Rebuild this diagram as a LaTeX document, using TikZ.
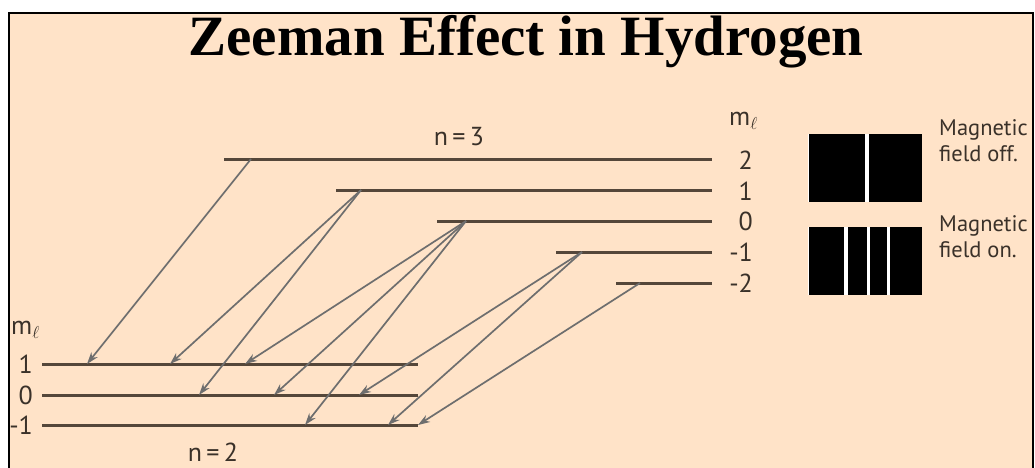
\documentclass[tikz,border=0pt]{standalone}
\usepackage{fontspec}
\setmainfont{Liberation Serif}
\newfontfamily\myr{PT Sans}
\usetikzlibrary{arrows.meta}
\definecolor{bgpeach}{HTML}{FFE3C8}
\definecolor{levelc}{HTML}{55473A}
\definecolor{arrowc}{HTML}{6E6E6E}
\definecolor{labc}{HTML}{3A3129}
\tikzset{
  level/.style={draw=levelc,line width=3pt},
  trans/.style={draw=arrowc,line width=1.7pt,-{Stealth[length=12pt,width=8pt]}},
  lab/.style={inner sep=0pt,text=labc,font=\myr\fontsize{26}{26}\selectfont},
  side/.style={inner sep=0pt,text=labc,anchor=base west,align=left,font=\myr\fontsize{22.5}{26}\selectfont},
  bar/.style={fill=black},
}
\begin{document}
\begin{tikzpicture}[x=1pt,y=-1pt]
\useasboundingbox (0,0) rectangle (1035,467);
\fill[white] (0,0) rectangle (1035,467);
\fill[bgpeach] (9,13) rectangle (1033,480);
\begin{scope}
\clip (9,13) rectangle (1033,480);
% title
\node[anchor=base,inner sep=0pt] (title) at (526,55) {\fontsize{57}{57}\selectfont\bfseries Zeeman Effect in Hydrogen};
% upper levels n=3
\coordinate (u2s) at (224,159); \coordinate (u2e) at (712,159);
\coordinate (u1s) at (336,190); \coordinate (u1e) at (712,190);
\coordinate (u0s) at (437,221); \coordinate (u0e) at (712,221);
\coordinate (um1s) at (556,252); \coordinate (um1e) at (712,252);
\coordinate (um2s) at (616,283); \coordinate (um2e) at (712,283);
\draw[level] (u2s) -- (u2e);
\draw[level] (u1s) -- (u1e);
\draw[level] (u0s) -- (u0e);
\draw[level] (um1s) -- (um1e);
\draw[level] (um2s) -- (um2e);
% lower levels n=2
\coordinate (l1s) at (42,364); \coordinate (l1e) at (418,364);
\coordinate (l0s) at (42,395); \coordinate (l0e) at (418,395);
\coordinate (lm1s) at (42,425); \coordinate (lm1e) at (418,425);
\draw[level] (l1s) -- (l1e);
\draw[level] (l0s) -- (l0e);
\draw[level] (lm1s) -- (lm1e);
% origins
\coordinate (o2) at (251,159);
\coordinate (o1) at (361,190);
\coordinate (o0) at (466,221);
\coordinate (om1) at (582,252);
\coordinate (om2) at (640,283);
% tips
\coordinate (t1a) at (87,364); \coordinate (t1b) at (170,364); \coordinate (t1c) at (245,364);
\coordinate (t0a) at (199,395); \coordinate (t0b) at (274,395); \coordinate (t0c) at (359,395);
\coordinate (tm1a) at (305,425); \coordinate (tm1b) at (388,425); \coordinate (tm1c) at (418,425);
\draw[trans] (o2) -- (t1a);
\draw[trans] (o1) -- (t1b);
\draw[trans] (o1) -- (t0a);
\draw[trans] (o0) -- (t1c);
\draw[trans] (o0) -- (t0b);
\draw[trans] (o0) -- (tm1a);
\draw[trans] (om1) -- (t0c);
\draw[trans] (om1) -- (tm1b);
\draw[trans] (om2) -- (tm1c);
% labels
\node[lab] (n3) at (459,137) {n\,=\,3};
\node[lab] (n2) at (213,452) {n\,=\,2};
\node[lab,anchor=west] (mlr) at (729,121) {m$_{\ell}$};
\node[lab,anchor=east] (r2) at (753,160) {2};
\node[lab,anchor=east] (r1) at (753,191) {1};
\node[lab,anchor=east] (r0) at (753,221) {0};
\node[lab,anchor=east] (rm1) at (753,252) {-1};
\node[lab,anchor=east] (rm2) at (753,283) {-2};
\node[lab,anchor=west] (mll) at (11,330) {m$_{\ell}$};
\node[lab,anchor=east] (ll1) at (33,364) {1};
\node[lab,anchor=east] (ll0) at (33,395) {0};
\node[lab,anchor=east] (llm1) at (33,425) {-1};
% spectra bars
\fill[white] (808,134) rectangle (922,202);
\fill[bar] (809,134) rectangle (865,202);
\fill[bar] (869,134) rectangle (922,202);
\fill[white] (808,227) rectangle (922,295);
\fill[bar] (809,227) rectangle (844,295);
\fill[bar] (847.5,227) rectangle (866.5,295);
\fill[bar] (869.5,227) rectangle (887,295);
\fill[bar] (890,227) rectangle (922,295);
\node[side] (off) at (939,161) {Magnetic\\field off.};
\node[side] (on) at (939,257) {Magnetic\\field on.};
\end{scope}
\draw[line width=2pt] (9,480) -- (9,13) -- (1033,13) -- (1033,480);
\end{tikzpicture}
\end{document}
